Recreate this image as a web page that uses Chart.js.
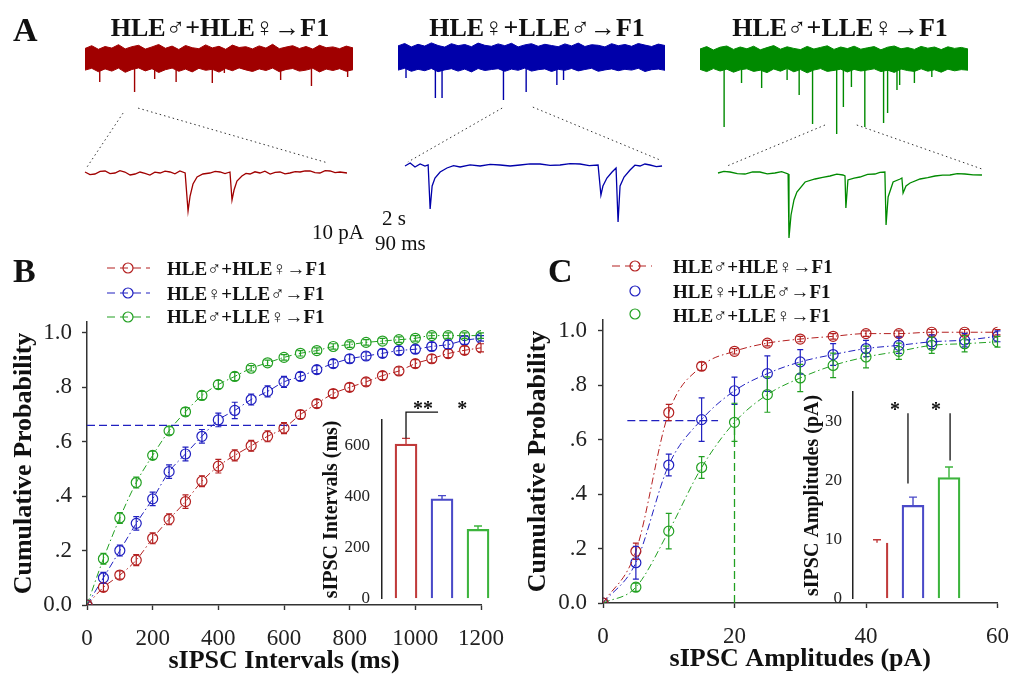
<!DOCTYPE html>
<html>
<head>
<meta charset="utf-8">
<script src="https://cdn.jsdelivr.net/npm/chart.js@4.4.1/dist/chart.umd.min.js"></script>
<style>
  body { margin: 0; background: #fff; }
  #fig { position: relative; width: 1010px; height: 675px; overflow: hidden;
         font-family: "Liberation Serif", "DejaVu Serif", serif; color: #111; }
  canvas { position: absolute; }
  .lbl { position: absolute; white-space: nowrap; line-height: 1; }
  .panel { font-weight: bold; font-size: 34px; }
  .ttl { font-weight: bold; font-size: 26px; width: 300px; text-align: center; }
  .leg { font-weight: bold; font-size: 19px; }
  .scl { font-size: 21px; }
</style>
</head>
<body>
<div id="fig">
  <canvas id="traces" width="1010" height="250" style="left:0;top:0"></canvas>
  <canvas id="cumB" width="519" height="431" style="left:0;top:250px"></canvas>
  <canvas id="cumC" width="519" height="429" style="left:505px;top:250px"></canvas>
  <canvas id="barB" width="180" height="226" style="left:320px;top:395px"></canvas>
  <canvas id="barC" width="200" height="250" style="left:790px;top:370px"></canvas>

  <div class="lbl panel" style="left:13px;top:13px">A</div>
  <div class="lbl panel" style="left:13px;top:254px">B</div>
  <div class="lbl panel" style="left:548px;top:254px">C</div>

  <div class="lbl ttl" style="left:70px;top:15px">HLE♂+HLE♀→F1</div>
  <div class="lbl ttl" style="left:387px;top:15px">HLE♀+LLE♂→F1</div>
  <div class="lbl ttl" style="left:690px;top:15px">HLE♂+LLE♀→F1</div>

  <div class="lbl scl" style="left:312px;top:222px">10 pA</div>
  <div class="lbl scl" style="left:382px;top:208px">2 s</div>
  <div class="lbl scl" style="left:375px;top:233px">90 ms</div>

  <div class="lbl leg" style="left:167px;top:259px">HLE♂+HLE♀→F1</div>
  <div class="lbl leg" style="left:167px;top:284px">HLE♀+LLE♂→F1</div>
  <div class="lbl leg" style="left:167px;top:307px">HLE♂+LLE♀→F1</div>

  <div class="lbl leg" style="left:673px;top:257px">HLE♂+HLE♀→F1</div>
  <div class="lbl leg" style="left:673px;top:282px">HLE♀+LLE♂→F1</div>
  <div class="lbl leg" style="left:673px;top:306px">HLE♂+LLE♀→F1</div>
</div>

<script>
"use strict";

// ---- data -------------------------------------------------------------

// B: cumulative probability of sIPSC intervals
const intervalsMs = [0, 50, 100, 150, 200, 250, 300, 350, 400, 450, 500, 550, 600,
                     650, 700, 750, 800, 850, 900, 950, 1000, 1050, 1100, 1150, 1200];
const cumIntRed   = [0, 0.065, 0.11, 0.165, 0.245, 0.315, 0.38, 0.455, 0.51, 0.55, 0.585, 0.62, 0.65,
                     0.70, 0.74, 0.777, 0.80, 0.82, 0.843, 0.86, 0.887, 0.905, 0.924, 0.936, 0.945];
const cumIntBlue  = [0, 0.10, 0.20, 0.30, 0.39, 0.49, 0.555, 0.62, 0.68, 0.715, 0.755, 0.785, 0.82,
                     0.84, 0.865, 0.887, 0.905, 0.915, 0.925, 0.935, 0.94, 0.95, 0.957, 0.973, 0.98];
const cumIntGreen = [0, 0.17, 0.32, 0.45, 0.55, 0.64, 0.71, 0.77, 0.81, 0.84, 0.87, 0.89, 0.91,
                     0.925, 0.935, 0.95, 0.957, 0.965, 0.97, 0.975, 0.98, 0.99, 0.99, 0.99, 0.99];
const semIntRed   = [0, 0.015, 0.015, 0.02, 0.02, 0.02, 0.025, 0.02, 0.025, 0.02, 0.02, 0.02, 0.02,
                     0.015, 0.015, 0.015, 0.015, 0.015, 0.015, 0.015, 0.015, 0.015, 0.015, 0.015, 0.015];
const semIntBlue  = [0, 0.02, 0.02, 0.025, 0.025, 0.025, 0.025, 0.025, 0.025, 0.03, 0.02, 0.02, 0.02,
                     0.015, 0.015, 0.015, 0.015, 0.015, 0.015, 0.015, 0.015, 0.015, 0.015, 0.015, 0.01];
const semIntGreen = [0, 0.02, 0.02, 0.02, 0.015, 0.015, 0.015, 0.015, 0.015, 0.015, 0.01, 0.01, 0.01,
                     0.01, 0.01, 0.01, 0.01, 0.01, 0.01, 0.01, 0.01, 0.01, 0.01, 0.01, 0.01];
const refIntX = [0, 640];          // dashed 66% marker in B
const refIntY = [0.66, 0.66];

// C: cumulative probability of sIPSC amplitudes
const amplitudesPa = [0, 5, 10, 15, 20, 25, 30, 35, 40, 45, 50, 55, 60];
const cumAmpRed    = [0, 0.19, 0.70, 0.87, 0.925, 0.955, 0.97, 0.98, 0.99, 0.99, 0.995, 0.995, 0.995];
const cumAmpBlue   = [0, 0.148, 0.507, 0.674, 0.78, 0.843, 0.886, 0.913, 0.935, 0.947, 0.96, 0.966, 0.98];
const cumAmpGreen  = [0, 0.058, 0.264, 0.498, 0.664, 0.766, 0.827, 0.873, 0.904, 0.925, 0.947, 0.953, 0.96];
const semAmpRed    = [0, 0.03, 0.03, 0.015, 0.01, 0.01, 0.01, 0.01, 0.01, 0.01, 0.01, 0.01, 0.01];
const semAmpBlue   = [0, 0.06, 0.04, 0.08, 0.05, 0.065, 0.045, 0.04, 0.03, 0.03, 0.025, 0.025, 0.02];
const semAmpGreen  = [0, 0.015, 0.065, 0.04, 0.07, 0.065, 0.05, 0.045, 0.04, 0.03, 0.03, 0.03, 0.02];
const refAmpBlueX  = [3.7, 17.5];
const refAmpBlueY  = [0.67, 0.67];
const refAmpGreenX = [20, 20];
const refAmpGreenY = [0, 0.66];

// insets: mean +/- SEM
const groups        = ["HLE♂+HLE♀", "HLE♀+LLE♂", "HLE♂+LLE♀"];
const intervalMean  = [606, 391, 272];
const intervalSem   = [22, 13, 13];
const amplitudeMean = [9.5, 15.8, 20.5];
const amplitudeSem  = [0.5, 1.4, 1.8];

// A: raw traces (pA relative to baseline). Top: 20 s sweeps, noise envelope every 0.5 s
const redNoiseHi   = [5.0, 6.4, 4.6, 6.0, 5.2, 6.9, 4.8, 5.9, 6.6, 4.7, 5.8, 7.0, 5.1, 6.2, 4.5, 6.5,
                      5.4, 4.9, 6.8, 5.3, 6.1, 4.6, 6.7, 5.5, 5.9, 4.8, 6.3, 5.2, 7.1, 4.9, 5.7, 6.4,
                      5.0, 6.0, 4.7, 6.6, 5.4, 5.8, 4.9, 6.2, 5.3];
const redNoiseLo   = [-5.8, -4.9, -6.6, -5.2, -6.3, -4.8, -6.9, -5.5, -4.7, -6.2, -5.1, -7.0, -5.6,
                      -4.8, -6.4, -5.3, -6.7, -4.9, -5.9, -5.4, -6.8, -5.0, -6.1, -4.7, -5.7, -6.5,
                      -5.2, -6.0, -4.8, -6.6, -5.5, -5.0, -6.3, -5.8, -4.9, -6.7, -5.3, -6.0, -5.1,
                      -6.4, -5.6];
const blueNoiseHi  = [5.8, 7.0, 5.3, 6.6, 5.7, 7.3, 6.0, 5.2, 6.9, 5.9, 6.5, 5.4, 7.2, 6.1, 5.6,
                      6.8, 5.9, 7.1, 5.3, 6.3, 6.9, 5.6, 6.6, 6.0, 5.4, 6.8, 5.8, 7.2, 5.5, 6.4,
                      6.1, 5.3, 6.9, 5.9, 6.5, 5.6, 7.0, 6.2, 5.5, 6.7, 6.0];
const blueNoiseLo  = [-6.3, -5.4, -6.9, -5.9, -6.6, -5.5, -7.1, -6.2, -5.6, -6.8, -5.8, -7.2, -5.5,
                      -6.5, -6.0, -5.6, -6.9, -5.8, -6.4, -5.3, -6.8, -6.1, -5.7, -7.0, -5.9, -6.4,
                      -5.5, -6.7, -6.0, -5.4, -6.9, -6.2, -5.7, -6.6, -5.9, -6.3, -5.4, -7.0, -6.1,
                      -5.8, -6.4];
const greenNoiseHi = [5.0, 6.2, 4.5, 5.9, 6.5, 4.8, 6.0, 5.1, 6.4, 4.6, 5.7, 6.7, 4.9, 6.1, 5.3,
                      4.7, 6.3, 5.0, 5.8, 6.6, 4.8, 6.0, 5.2, 6.4, 4.9, 5.6, 6.2, 4.6, 5.9, 6.5,
                      5.1, 5.7, 4.8, 6.3, 5.4, 6.0, 4.7, 6.1, 5.3, 5.8, 5.0];
const greenNoiseLo = [-5.2, -6.3, -4.8, -6.0, -5.1, -6.6, -5.4, -4.9, -6.2, -5.6, -6.8, -5.0, -6.1,
                      -4.7, -6.4, -5.3, -6.9, -5.5, -4.8, -6.2, -5.7, -5.1, -6.5, -5.2, -6.0, -5.5,
                      -4.9, -6.3, -5.6, -6.7, -5.0, -5.8, -6.2, -4.9, -6.1, -5.4, -6.6, -5.1, -5.9,
                      -5.3, -5.6];
// spontaneous events: [time s, peak pA]
const redEvents   = [[1.1, -11.8], [3.7, -16.8], [5.2, -10.3], [6.8, -11.8], [9.5, -12.3],
                     [10.4, -7.3], [14.6, -10.8], [16.9, -13.8], [19.6, -9.3]];
const blueEvents  = [[0.6, -10.3], [2.8, -20.3], [3.3, -20.3], [7.9, -21.3], [9.6, -17.3],
                     [11.9, -13.8], [12.4, -11.3]];
const greenEvents = [[1.8, -34], [3.1, -12], [4.6, -14.5], [6.5, -10.5], [7.4, -18], [8.4, -32.5],
                     [10.2, -37.5], [10.7, -24], [11.3, -14], [12.3, -34], [13.7, -32], [14.0, -27],
                     [14.7, -15.5], [14.9, -13], [16.0, -12], [17.3, -9]];
// expanded sweeps (ms, pA)
const redZoomT   = [0, 17, 34, 52, 69, 86, 103, 120, 137, 155, 172, 189, 206, 223, 240, 258, 275, 292,
                    309, 326, 344, 354, 361, 371, 385, 405, 429, 447, 464, 481, 498, 505, 512, 522,
                    539, 553, 567, 584, 601, 618, 636, 653, 670, 687, 704, 722, 739, 756, 773, 790,
                    807, 825, 842, 859, 876, 900];
const redZoomI   = [0.5, -0.8, -0.5, 0.8, 1, -0.3, 0, 1.2, 0.5, -1, -0.5, 0.5, -0.2, -1, 0.4, 0, 0.9,
                    0.5, -0.4, 1, 0, -19, -11.5, -5.5, -2, -0.5, 0, 0.8, 0.5, -0.3, 0.5, -13.5, -8.5,
                    -4, -1.5, -0.2, -0.5, 0.6, 0, 0.9, -0.5, 0.3, 0.5, -0.4, 0, 0.7, 0.5, 1.1, 1, 0.2,
                    0, 1.2, 1, 0.2, 0.5, 0];
const blueZoomT  = [0, 18, 35, 53, 70, 81, 88, 95, 105, 123, 147, 170, 193, 228, 263, 298, 333, 368,
                    403, 438, 473, 508, 543, 578, 613, 645, 676, 686, 693, 707, 725, 739, 746, 753,
                    767, 788, 805, 823, 840, 858, 880, 900];
const blueZoomI  = [0, 1.5, -0.5, 1, 0, 0.5, -21.5, -10, -6, -3, -1, 0.2, -0.5, 0.6, 0, 0.8, 0.5, 0,
                    0.5, 1.1, 1, 0.3, 0.5, 1.2, 1, 0.2, 0.5, -14.5, -10, -6, -3, -1, -28, -10, -5.5,
                    -2, 0.4, 0, 1, 0.5, -0.3, 0];
const greenZoomT = [0, 20, 41, 66, 92, 118, 143, 168, 194, 217, 239, 242, 249, 259, 269, 297, 331,
                    357, 382, 405, 426, 433, 436, 443, 464, 484, 510, 535, 552, 569, 573, 580, 597,
                    621, 627, 631, 641, 655, 689, 715, 740, 766, 791, 816, 842, 870, 900];
const greenZoomI = [0, 0.8, 0.5, -0.3, -0.5, 0.6, 0.5, -0.4, 0, 0.7, -0.5, -32.5, -21, -13.5, -9.5,
                    -4.5, -3, -2.2, -1.5, -0.6, -1, -1.5, -17.5, -3.5, -2.6, -2, -0.7, -0.5, 0.3, 0.5,
                    -26, -12, -4.5, -3, -2.5, -10, -6.5, -5, -3, -2.3, -1.5, -1.1, -1, -0.3, -0.5, -0.9, -1];
// dotted guides: [sweep s, pA] -> [expanded ms, pA]
const redGuides   = [[2.84, -27.3, 7, 3], [3.96, -24.8, 835, 5]];
const blueGuides  = [[7.8, -25.3, 10, 2], [10.1, -24.8, 893, 3]];
const greenGuides = [[9.33, -33, 31, 3.5], [11.7, -33, 900, 2]];

// ---- style --------------------------------------------------------------

const FONT = '"Liberation Serif", "DejaVu Serif", serif';
const RED = "#b42020", BLUE = "#2020c0", GREEN = "#22a022";
const BAR_COLORS = ["#c03a3a", "#4a4ac8", "#3cb43c"];
const DASHDOT = [7, 3, 1.5, 3];

Chart.defaults.font.family = FONT;
Chart.defaults.color = "#222";
Chart.defaults.animation = false;
Chart.defaults.responsive = false;
Chart.defaults.plugins.legend.display = false;
Chart.defaults.plugins.tooltip.enabled = false;

// vertical error bars read from dataset.errors
const errorBars = {
  id: "errorBars",
  afterDatasetsDraw(chart) {
    const { ctx } = chart;
    const yScale = chart.scales.y;
    chart.data.datasets.forEach((ds, i) => {
      if (!ds.errors) return;
      const meta = chart.getDatasetMeta(i);
      ctx.save();
      ctx.lineWidth = ds.errorWidth || 1.2;
      ctx.setLineDash([]);
      meta.data.forEach((el, j) => {
        const err = ds.errors[j];
        if (!err) return;
        ctx.strokeStyle = Array.isArray(ds.borderColor) ? ds.borderColor[j] : ds.borderColor;
        const v = ds.data[j].y;
        const cap = ds.capHalf || 3;
        const yHi = yScale.getPixelForValue(v + err);
        const yLo = yScale.getPixelForValue(ds.upOnly ? v : v - err);
        ctx.beginPath();
        ctx.moveTo(el.x, yLo); ctx.lineTo(el.x, yHi);
        ctx.moveTo(el.x - cap, yHi); ctx.lineTo(el.x + cap, yHi);
        if (!ds.upOnly) { ctx.moveTo(el.x - cap, yLo); ctx.lineTo(el.x + cap, yLo); }
        ctx.stroke();
      });
      ctx.restore();
    });
  },
};

// legend symbols (line + open circle); labels are html next to them
const symbolLegend = {
  id: "symbolLegend",
  afterDraw(chart, args, opts) {
    const { ctx } = chart;
    opts.items.forEach((it, k) => {
      const ds = chart.data.datasets[it.dataset];
      const y = opts.rows[k];
      ctx.save();
      ctx.strokeStyle = ds.borderColor;
      ctx.lineWidth = 1.2;
      if (it.line) {
        ctx.setLineDash([8, 5]);
        ctx.beginPath(); ctx.moveTo(opts.x0, y); ctx.lineTo(opts.x1, y); ctx.stroke();
      }
      ctx.setLineDash([]);
      ctx.beginPath(); ctx.arc(opts.cx, y, 5, 0, Math.PI * 2); ctx.stroke();
      ctx.restore();
    });
  },
};

// significance brackets and stars for the insets, in data units
const sigMarks = {
  id: "sigMarks",
  afterDraw(chart, args, opts) {
    const { ctx, scales: { x, y } } = chart;
    ctx.save();
    ctx.strokeStyle = "#111"; ctx.fillStyle = "#111"; ctx.lineWidth = 1.3;
    opts.lines.forEach(seg => {
      ctx.beginPath();
      seg.forEach(([vx, vy], k) => {
        const px = x.getPixelForValue(vx), py = y.getPixelForValue(vy);
        if (k) ctx.lineTo(px, py); else ctx.moveTo(px, py);
      });
      ctx.stroke();
    });
    ctx.font = "bold 20px " + FONT;
    ctx.textAlign = "center";
    ctx.textBaseline = "alphabetic";
    opts.stars.forEach(s => ctx.fillText(s.text, x.getPixelForValue(s.x), y.getPixelForValue(s.y)));
    ctx.restore();
  },
};

// ---- panel A: traces ----------------------------------------------------

const PX_PER_PA = 2;
const NOISE_DT = 0.5;
const sweeps = [
  { color: "#a00000", x0: 85,  pxPerS: 13.4,  base: 58.5, hi: redNoiseHi,   lo: redNoiseLo,   events: redEvents,
    zoom: { x0: 85,  pxPerMs: 0.2911, base: 173, t: redZoomT,   i: redZoomI },   guides: redGuides },
  { color: "#0000aa", x0: 398, pxPerS: 13.35, base: 57.5, hi: blueNoiseHi,  lo: blueNoiseLo,  events: blueEvents,
    zoom: { x0: 405, pxPerMs: 0.2856, base: 166, t: blueZoomT,  i: blueZoomI },  guides: blueGuides },
  { color: "#008a00", x0: 700, pxPerS: 13.4,  base: 59,   hi: greenNoiseHi, lo: greenNoiseLo, events: greenEvents,
    zoom: { x0: 718, pxPerMs: 0.2933, base: 173, t: greenZoomT, i: greenZoomI }, guides: greenGuides },
];

function buildTraceDatasets() {
  const out = [];
  const lineBase = { pointRadius: 0, tension: 0, fill: false, borderWidth: 1, spanGaps: false };
  sweeps.forEach(sw => {
    const sx = t => sw.x0 + t * sw.pxPerS;
    const sy = v => sw.base - v * PX_PER_PA;
    out.push({ ...lineBase, borderColor: sw.color, backgroundColor: sw.color, fill: "+1",
      data: sw.hi.map((v, i) => ({ x: sx(i * NOISE_DT), y: sy(v) })) });
    out.push({ ...lineBase, borderColor: sw.color,
      data: sw.lo.map((v, i) => ({ x: sx(i * NOISE_DT), y: sy(v) })) });
    const ev = [];
    sw.events.forEach(([t, amp]) => {
      ev.push({ x: sx(t), y: sy(-5) }, { x: sx(t), y: sy(amp) }, { x: sx(t), y: null });
    });
    out.push({ ...lineBase, borderColor: sw.color, borderWidth: 1.4, data: ev });

    const z = sw.zoom;
    const zx = t => z.x0 + t * z.pxPerMs;
    const zy = v => z.base - v * PX_PER_PA;
    out.push({ ...lineBase, borderColor: sw.color, borderWidth: 1.3,
      data: z.t.map((t, i) => ({ x: zx(t), y: zy(z.i[i]) })) });

    sw.guides.forEach(([ts, vs, tm, vm]) => {
      out.push({ ...lineBase, borderColor: "#333", borderWidth: 1, borderDash: [1.5, 3],
        data: [{ x: sx(ts), y: sy(vs) }, { x: zx(tm), y: zy(vm) }] });
    });
  });
  return out;
}

new Chart(document.getElementById("traces"), {
  type: "line",
  data: { datasets: buildTraceDatasets() },
  options: {
    layout: { padding: 0 },
    scales: {
      x: { type: "linear", min: 0, max: 1010, display: false },
      y: { type: "linear", min: 0, max: 250, reverse: true, display: false },
    },
  },
});

// ---- panels B and C: cumulative curves ----------------------------------

function series(xs, ys, errs, color) {
  return {
    data: xs.map((x, i) => ({ x, y: ys[i] })),
    errors: errs,
    borderColor: color, borderWidth: 1, borderDash: DASHDOT,
    pointStyle: "circle", pointRadius: 5, pointBorderWidth: 1.2,
    pointBorderColor: color, pointBackgroundColor: "rgba(0,0,0,0)",
    cubicInterpolationMode: "monotone", fill: false,
  };
}

function refLine(xs, ys, color) {
  return {
    data: xs.map((x, i) => ({ x, y: ys[i] })),
    borderColor: color, borderWidth: 1.3, borderDash: [8, 4], pointRadius: 0, fill: false,
  };
}

function cumulativeChart(id, datasets, cfg) {
  const axisFont = { size: 23, family: FONT };
  const titleFont = { size: 26, weight: "bold", family: FONT };
  return new Chart(document.getElementById(id), {
    type: "line",
    data: { datasets },
    options: {
      // right edge of the plot comes from half the last tick label + tick padding
      layout: { padding: { top: cfg.padTop, right: 0, left: 0, bottom: 0 } },
      scales: {
        x: {
          type: "linear", min: 0, max: cfg.xMax,
          ticks: { stepSize: cfg.xStep, font: axisFont, color: "#222", padding: 15, maxRotation: 0,
                   callback: v => String(v) },
          grid: { drawOnChartArea: false, tickLength: 5, color: "#333", tickWidth: 1.4 },
          border: { color: "#333", width: 1.5 },
          title: { display: true, text: cfg.xTitle, font: titleFont, color: "#111", padding: { top: 0, bottom: 4 } },
          afterFit(scale) { scale.height = 76; },
        },
        y: {
          type: "linear", min: 0, max: 1.04,
          ticks: {
            stepSize: 0.2, includeBounds: false, font: axisFont, color: "#222", padding: cfg.yTickPad,
            callback: v => (v === 0 ? "0.0" : v >= 0.999 ? "1.0" : "." + Math.round(v * 10)),
          },
          grid: { drawOnChartArea: false, tickLength: 5, color: "#333", tickWidth: 1.4 },
          border: { color: "#333", width: 1.5 },
          title: { display: true, text: "Cumulative Probability", font: titleFont, color: "#111",
                   padding: { top: cfg.yTitlePad, bottom: 0 } },
          afterFit(scale) { scale.width = cfg.yWidth; },
        },
      },
      plugins: { symbolLegend: cfg.legend },
    },
    plugins: [errorBars, symbolLegend],
  });
}

cumulativeChart("cumB", [
  series(intervalsMs, cumIntRed, semIntRed, RED),
  series(intervalsMs, cumIntBlue, semIntBlue, BLUE),
  series(intervalsMs, cumIntGreen, semIntGreen, GREEN),
  refLine(refIntX, refIntY, BLUE),
], {
  padTop: 72, yWidth: 87, yTickPad: 10, yTitlePad: 9,
  xMax: 1200, xStep: 200, xTitle: "sIPSC Intervals (ms)",
  legend: { x0: 107, x1: 150, cx: 128, rows: [18, 43, 67],
            items: [{ dataset: 0, line: true }, { dataset: 1, line: true }, { dataset: 2, line: true }] },
});

cumulativeChart("cumC", [
  series(amplitudesPa, cumAmpRed, semAmpRed, RED),
  series(amplitudesPa, cumAmpBlue, semAmpBlue, BLUE),
  series(amplitudesPa, cumAmpGreen, semAmpGreen, GREEN),
  refLine(refAmpBlueX, refAmpBlueY, BLUE),
  refLine(refAmpGreenX, refAmpGreenY, GREEN),
], {
  padTop: 70, yWidth: 98, yTickPad: 11, yTitlePad: 18,
  xMax: 60, xStep: 20, xTitle: "sIPSC Amplitudes (pA)",
  legend: { x0: 107, x1: 147, cx: 130, rows: [16, 41, 64],
            items: [{ dataset: 0, line: true }, { dataset: 1, line: false }, { dataset: 2, line: false }] },
});

// ---- insets: mean bars ---------------------------------------------------

function barInset(id, means, sems, cfg) {
  return new Chart(document.getElementById(id), {
    type: "bar",
    data: {
      labels: groups,
      datasets: [{
        data: means.map((m, i) => ({ x: i + 1, y: m })),
        errors: sems, upOnly: true, capHalf: 4, errorWidth: 1.4,
        backgroundColor: "rgba(255,255,255,0)",
        borderColor: BAR_COLORS,
        borderWidth: ctx => (cfg.firstRightOnly && ctx.dataIndex === 0)
          ? { left: 0, top: 0, right: 1.6, bottom: 0 } : 1.6,
        borderSkipped: "bottom",
        barThickness: 22,
      }],
    },
    options: {
      layout: { padding: { top: cfg.padTop, bottom: 11, right: 10, left: 0 } },
      scales: {
        x: { type: "linear", min: 0.333, max: cfg.xMax, offset: false, display: false },
        y: {
          min: 0, max: cfg.yMax,
          ticks: { stepSize: cfg.yStep, includeBounds: false, font: { size: 17, family: FONT },
                   color: "#222", padding: cfg.tickPad },
          grid: { drawOnChartArea: false, drawTicks: false },
          border: { color: "#222", width: 1.5 },
          title: { display: true, text: cfg.title, font: { size: 20, weight: "bold", family: FONT },
                   color: "#111", padding: { top: cfg.titlePad, bottom: 0 } },
          afterFit(scale) { scale.width = cfg.yWidth; },
        },
      },
      plugins: { sigMarks: cfg.sig },
    },
    plugins: [errorBars, sigMarks],
  });
}

barInset("barB", intervalMean, intervalSem, {
  padTop: 25, xMax: 3.333, yMax: 700, yStep: 200, yWidth: 62, tickPad: 12, titlePad: 0,
  title: "sIPSC Intervals (ms)",
  sig: { lines: [[[1, 628], [1, 731], [1.89, 731]]],
         stars: [{ x: 1.47, y: 720, text: "**" }, { x: 2.56, y: 720, text: "*" }] },
});

barInset("barC", amplitudeMean, amplitudeSem, {
  padTop: 22, xMax: 3.861, yMax: 35, yStep: 10, yWidth: 63, tickPad: 11, titlePad: 11,
  title: "sIPSC Amplitudes (pA)", firstRightOnly: true,
  sig: { lines: [[[1.86, 31.4], [1.86, 19.5]], [[3.03, 31.4], [3.03, 23.4]]],
         stars: [{ x: 1.5, y: 30.9, text: "*" }, { x: 2.64, y: 30.9, text: "*" }] },
});
</script>
</body>
</html>
